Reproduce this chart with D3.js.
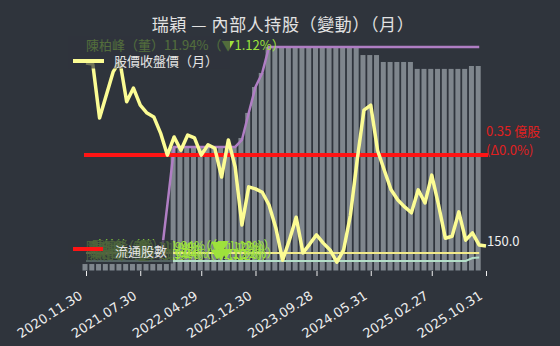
<!DOCTYPE html>
<html>
<head>
<meta charset="utf-8">
<script src="https://cdn.jsdelivr.net/npm/d3@7"></script>
<style>
  html, body { margin: 0; padding: 0; background: #2f343c; }
  svg { display: block; font-family: "Noto Sans CJK TC", sans-serif; }
</style>
</head>
<body>
<div id="chart"></div>
<script>
// months on the x axis (month-end data)
const months = [
  '2020.11', '2020.12',
  '2021.01', '2021.02', '2021.03', '2021.04', '2021.05', '2021.06', '2021.07', '2021.08', '2021.09', '2021.10', '2021.11', '2021.12',
  '2022.01', '2022.02', '2022.03', '2022.04', '2022.05', '2022.06', '2022.07', '2022.08', '2022.09', '2022.10', '2022.11', '2022.12',
  '2023.01', '2023.02', '2023.03', '2023.04', '2023.05', '2023.06', '2023.07', '2023.08', '2023.09', '2023.10', '2023.11', '2023.12',
  '2024.01', '2024.02', '2024.03', '2024.04', '2024.05', '2024.06', '2024.07', '2024.08', '2024.09', '2024.10', '2024.11', '2024.12',
  '2025.01', '2025.02', '2025.03', '2025.04', '2025.05', '2025.06', '2025.07', '2025.08', '2025.09', '2025.10'
];
const tickMonths = ['2020.11', '2021.07', '2022.04', '2022.12', '2023.09', '2024.05', '2025.02', '2025.10'];
const tickLabels = ['2020.11.30', '2021.07.30', '2022.04.29', '2022.12.30', '2023.09.28', '2024.05.31', '2025.02.27', '2025.10.31'];

// 股價收盤價(月)
const closePrice = [524, 522, 412, 459, 506, 528, 445, 473, 438, 422, 414, 381, 336, 373, 346, 377, 371, 336, 357, 350,
  291, 367, 312, 193, 271, 267, 260, 234, 187, 121, 162, 209, 136, 154, 173, 156, 142, 117, 142, 213,
  326, 428, 438, 346, 305, 265, 244, 230, 218, 265, 238, 295, 234, 166, 170, 220, 162, 177, 152, 150];

// 內部人持股 (% of max), grey bars
const holdBars = [2.9, 2.9, 2.9, 2.9, 2.9, 2.9, 2.9, 2.9, 2.9, 2.9, 2.9, 2.9, 2.9,
  55.3, 55.3, 55.3, 55.3, 55.3, 55.3, 55.3, 55.3, 55.3, 55.3,
  59.3, 70.5, 82.1, 88.4,
  100, 100, 100, 100, 100, 100, 100, 100, 100, 100, 100, 100, 100, 100,
  96.4, 96.4, 96.4,
  93.3, 93.3, 93.3, 93.3, 93.3,
  90.2, 90.2, 90.2, 90.2, 90.2, 90.2, 90.2, 90.2,
  91.5, 91.5];

// purple holding line
const holdPct = [null, null, null, null, null, null, null, null, null, null, null,
  3.8, 29.3,
  55.3, 55.3, 55.3, 55.3, 55.3, 55.3, 55.3, 55.3, 55.3, 55.3,
  58.4, 70.5, 82.1, 88.4,
  100, 100, 100, 100, 100, 100, 100, 100, 100, 100, 100, 100, 100, 100, 100, 100,
  100, 100, 100, 100, 100, 100, 100, 100, 100, 100, 100, 100, 100, 100, 100, 100];

// two thin lines near the bottom
const lineA = [7.8, 7.8, 7.8, 7.8, 7.8, 7.8, 7.8, 7.8, 7.8, 7.8, 7.8, 7.8, 7.8, 7.8, 7.8, 7.8, 7.8, 7.8, 7.8, 7.8,
  7.8, 7.8, 7.8, 7.8, 7.8, 7.8, 7.8, 7.8, 7.8, 7.8, 7.8, 7.8, 7.8, 7.8, 7.8, 7.8, 7.8, 7.8, 7.8, 7.8,
  7.8, 7.8, 7.8, 7.8, 7.8, 7.8, 7.8, 7.8, 7.8, 7.8, 7.8, 7.8, 7.8, 7.8, 7.8, 7.8, 7.8, 7.8, 7.8];
const lineB = [4.3, 4.3, 4.3, 4.3, 4.3, 4.3, 4.3, 4.3, 4.3, 4.3, 4.3, 4.3, 4.3, 4.3, 4.3, 4.3, 4.3, 4.3, 4.3, 4.3,
  4.3, 4.3, 4.3, 4.3, 4.3, 4.3, 4.3, 4.3, 4.3, 4.3, 4.3, 4.3, 4.3, 4.3, 4.3, 4.3, 4.3, 4.3, 4.3, 4.3,
  4.3, 4.3, 4.3, 4.3, 4.3, 4.3, 4.3, 4.3, 4.3, 4.3, 4.3, 4.3, 4.3, 4.3, 4.3, 4.3, 4.3, 5.6, 5.8];

// 流通股數 (億股)
const floatShares = [0.35, 0.35, 0.35, 0.35, 0.35, 0.35, 0.35, 0.35, 0.35, 0.35, 0.35, 0.35, 0.35, 0.35, 0.35,
  0.35, 0.35, 0.35, 0.35, 0.35, 0.35, 0.35, 0.35, 0.35, 0.35, 0.35, 0.35, 0.35, 0.35, 0.35,
  0.35, 0.35, 0.35, 0.35, 0.35, 0.35, 0.35, 0.35, 0.35, 0.35, 0.35, 0.35, 0.35, 0.35, 0.35,
  0.35, 0.35, 0.35, 0.35, 0.35, 0.35, 0.35, 0.35, 0.35, 0.35, 0.35, 0.35, 0.35, 0.35, 0.35];

const holderLabel = '陳柏峰（董）11.94%（▼1.12%）';

const width = 560;
const height = 346;

const svg = d3.select('#chart')
  .append('svg')
  .attr('width', width)
  .attr('height', height);

svg.append('rect').attr('width', width).attr('height', height).attr('fill', '#2f343c');

const x = d3.scalePoint().domain(months).range([86, 486]);
const yPct = d3.scaleLinear().domain([0, 100]).range([270.5, 47]);
const yPrice = d3.scaleLinear().domain([100, 557]).range([270.5, 47]);
const yFloat = d3.scaleLinear().domain([0.1, 0.584]).range([270.5, 47]);

// title
svg.append('text')
  .attr('x', 283).attr('y', 31)
  .attr('text-anchor', 'middle')
  .attr('fill', '#e2e2e2')
  .style('font-size', '17px')
  .style('letter-spacing', '0.6px')
  .text('瑞穎 — 內部人持股（變動）（月）');

// bars
svg.append('g')
  .selectAll('rect')
  .data(holdBars)
  .enter().append('rect')
  .attr('x', (d, i) => x(months[i]) - 3.5)
  .attr('width', 5)
  .attr('y', d => yPct(d))
  .attr('height', d => yPct(0) - yPct(d))
  .attr('fill', '#7f868d');

const lineOf = (scale) => d3.line()
  .defined(d => d != null)
  .x((d, i) => x(months[i]))
  .y(d => scale(d));

svg.append('path')
  .datum(holdPct)
  .attr('d', lineOf(yPct))
  .attr('fill', 'none')
  .attr('stroke', '#b07ec4')
  .attr('stroke-width', 2.5);

svg.append('path')
  .datum(floatShares)
  .attr('d', lineOf(yFloat))
  .attr('fill', 'none')
  .attr('stroke', '#ff1414')
  .attr('stroke-width', 4)
  .attr('stroke-linecap', 'square');

svg.append('path')
  .datum(lineA)
  .attr('d', lineOf(yPct))
  .attr('fill', 'none')
  .attr('stroke', '#f2ea8a')
  .attr('stroke-width', 2);

svg.append('path')
  .datum(lineB)
  .attr('d', lineOf(yPct))
  .attr('fill', 'none')
  .attr('stroke', '#b4dfc8')
  .attr('stroke-width', 2);

// jumbled holder labels near the bottom
const jumble = [[86, 251], [89, 252], [92, 250], [86, 259], [90, 260], [95, 258]];
svg.append('g')
  .selectAll('text')
  .data(jumble)
  .enter().append('text')
  .attr('x', d => d[0])
  .attr('y', d => d[1])
  .attr('fill', '#9ee23c')
  .style('font-size', '12px')
  .text(holderLabel);

// price line
svg.append('path')
  .datum(closePrice)
  .attr('d', lineOf(yPrice))
  .attr('fill', 'none')
  .attr('stroke', '#fcfc94')
  .attr('stroke-width', 3.5)
  .attr('stroke-linejoin', 'round');

// top holder label
svg.append('text')
  .attr('x', 86).attr('y', 50)
  .attr('fill', '#9ee23c')
  .style('font-size', '13px')
  .text(holderLabel);

// legend boxes (semi transparent, dim what is under them)
svg.append('rect')
  .attr('x', 68).attr('y', 36).attr('width', 162).attr('height', 32.5)
  .attr('fill', '#2f343c').attr('opacity', 0.68);
svg.append('rect')
  .attr('x', 68).attr('y', 240).attr('width', 105).attr('height', 23.5)
  .attr('fill', '#2f343c').attr('opacity', 0.72);

svg.append('line')
  .attr('x1', 73).attr('x2', 104).attr('y1', 61).attr('y2', 61)
  .attr('stroke', '#fcfc94').attr('stroke-width', 4);
svg.append('text')
  .attr('x', 114).attr('y', 66)
  .attr('fill', '#e6e6e6')
  .style('font-size', '13px')
  .text('股價收盤價（月）');

svg.append('line')
  .attr('x1', 73).attr('x2', 103).attr('y1', 249).attr('y2', 249)
  .attr('stroke', '#ff1414').attr('stroke-width', 4);
svg.append('text')
  .attr('x', 115).attr('y', 256)
  .attr('fill', '#e6e6e6')
  .style('font-size', '13px')
  .text('流通股數');

// right side labels
const last = months.length - 1;
svg.append('text')
  .attr('x', x(months[last]) + 1).attr('y', 246)
  .attr('fill', '#f0f0f0')
  .style('font-size', '13px')
  .text(closePrice[last].toFixed(1));

svg.append('text')
  .attr('x', 486).attr('y', 136)
  .attr('fill', '#e0201f')
  .style('font-size', '13px')
  .text(floatShares[last] + ' 億股');
svg.append('text')
  .attr('x', 486).attr('y', 155)
  .attr('fill', '#e0201f')
  .style('font-size', '13px')
  .text('(Δ0.0%)');

// x axis
const xAxis = svg.append('g')
  .attr('transform', 'translate(0,271)')
  .call(d3.axisBottom(x)
    .tickValues(tickMonths)
    .tickSize(5)
    .tickFormat(d => tickLabels[tickMonths.indexOf(d)]));

xAxis.select('.domain').remove();
xAxis.selectAll('line').attr('stroke', '#f0f0f0');
xAxis.selectAll('text')
  .attr('x', 0).attr('y', 0).attr('dy', 0)
  .attr('transform', 'translate(-3,27) rotate(-33)')
  .style('text-anchor', 'end')
  .style('font-size', '13px')
  .style('font-family', '"DejaVu Sans", sans-serif')
  .attr('fill', '#ececec');
</script>
</body>
</html>
